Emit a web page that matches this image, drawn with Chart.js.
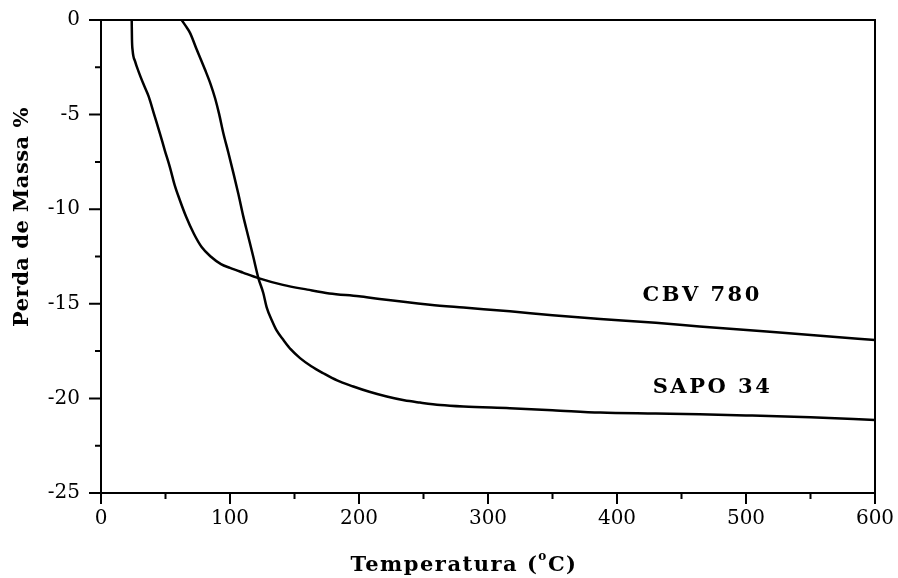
<!DOCTYPE html>
<html>
<head>
<meta charset="utf-8">
<script src="https://cdn.jsdelivr.net/npm/chart.js@4/dist/chart.umd.min.js"></script>
<style>
  html, body { margin: 0; padding: 0; background: #fff; }
  #wrap { width: 898px; height: 578px; }
</style>
</head>
<body>
<div id="wrap"><canvas id="chart" width="898" height="578"></canvas></div>
<script>
// TGA curves: temperature (oC) vs mass loss (%)
const cbvTemp = [23.8, 24.0, 24.5, 26.5, 29, 33, 37, 41, 45.7, 49.5, 53.5, 57, 61, 66, 72, 78, 85, 93, 100, 110, 122, 141, 160, 177, 200, 216, 255, 281, 317, 350, 387, 430, 464, 516, 560, 600];
const cbvMass = [0, -1.0, -1.6, -2.2, -2.7, -3.4, -4.05, -4.95, -6.0, -6.9, -7.8, -8.7, -9.5, -10.4, -11.3, -12.0, -12.5, -12.9, -13.1, -13.35, -13.64, -14.0, -14.25, -14.45, -14.6, -14.75, -15.05, -15.2, -15.4, -15.6, -15.8, -16.0, -16.2, -16.47, -16.7, -16.92];

const sapoTemp = [62.5, 65.5, 69, 74.2, 80.6, 85, 88.5, 91.5, 94.8, 98.7, 102.6, 106.5, 110.3, 114, 118, 122, 125.8, 128.5, 132.3, 136.5, 141.3, 147, 154.3, 163, 172.3, 183, 195.6, 208, 221.5, 235, 247.3, 263, 281, 317, 350, 387, 430, 464, 500, 550, 600];
const sapoMass = [0, -0.3, -0.68, -1.56, -2.62, -3.4, -4.15, -4.95, -5.97, -7.0, -8.08, -9.2, -10.38, -11.4, -12.5, -13.64, -14.43, -15.2, -15.85, -16.45, -16.9, -17.4, -17.87, -18.3, -18.67, -19.05, -19.37, -19.65, -19.9, -20.1, -20.22, -20.35, -20.43, -20.52, -20.62, -20.75, -20.8, -20.84, -20.9, -21.0, -21.14];

// curve labels: text, x (oC), y (%)
const seriesLabels = ["CBV 780", "SAPO 34"];
const labelTemp = [466, 474];
const labelMass = [-14.58, -19.45];

const xMajor = [0, 100, 200, 300, 400, 500, 600];
const xMinor = [50, 150, 250, 350, 450, 550];
const yMajor = [0, -5, -10, -15, -20, -25];
const yMinor = [-2.5, -7.5, -12.5, -17.5, -22.5];

const xTitle = "Temperatura (";
const xTitleSup = "o";
const xTitleEnd = "C)";
const yTitle = "Perda de Massa %";

const serif = "'DejaVu Serif', serif";

function toPoints(xs, ys) {
    return xs.map((x, i) => ({ x: x, y: ys[i] }));
}

const framePlugin = {
    id: 'frame',
    afterDraw(c) {
        const ctx = c.ctx;
        const a = c.chartArea;
        const xs = c.scales.x;
        const ys = c.scales.y;
        ctx.save();
        ctx.strokeStyle = '#000';
        ctx.lineWidth = 2;
        ctx.strokeRect(a.left, a.top, a.right - a.left, a.bottom - a.top);

        ctx.beginPath();
        xMajor.forEach(v => {
            const px = xs.getPixelForValue(v);
            ctx.moveTo(px, a.bottom); ctx.lineTo(px, a.bottom + 11);
        });
        xMinor.forEach(v => {
            const px = xs.getPixelForValue(v);
            ctx.moveTo(px, a.bottom); ctx.lineTo(px, a.bottom + 6);
        });
        yMajor.forEach(v => {
            const py = ys.getPixelForValue(v);
            ctx.moveTo(a.left, py); ctx.lineTo(a.left - 12, py);
        });
        yMinor.forEach(v => {
            const py = ys.getPixelForValue(v);
            ctx.moveTo(a.left, py); ctx.lineTo(a.left - 6, py);
        });
        ctx.stroke();

        // curve labels
        ctx.fillStyle = '#000';
        ctx.font = "bold 21px " + serif;
        ctx.letterSpacing = '2.5px';
        ctx.textAlign = 'center';
        ctx.textBaseline = 'middle';
        seriesLabels.forEach((t, i) => {
            ctx.fillText(t, xs.getPixelForValue(labelTemp[i]), ys.getPixelForValue(labelMass[i]));
        });

        // x title with superscript degree
        ctx.font = "bold 21px " + serif;
        ctx.letterSpacing = '1.5px';
        ctx.textAlign = 'left';
        ctx.textBaseline = 'alphabetic';
        const w1 = ctx.measureText(xTitle).width;
        const w3 = ctx.measureText(xTitleEnd).width;
        ctx.font = "bold 12px " + serif;
        const w2 = ctx.measureText(xTitleSup).width;
        const total = w1 + w2 + w3;
        let x0 = 464 - total / 2;
        const base = 571;
        ctx.font = "bold 21px " + serif;
        ctx.fillText(xTitle, x0, base);
        ctx.font = "bold 12px " + serif;
        ctx.fillText(xTitleSup, x0 + w1, base - 11);
        ctx.font = "bold 21px " + serif;
        ctx.fillText(xTitleEnd, x0 + w1 + w2, base);

        // y title
        ctx.translate(23, 217);
        ctx.rotate(-Math.PI / 2);
        ctx.letterSpacing = '0.5px';
        ctx.font = "bold 21px " + serif;
        ctx.textAlign = 'center';
        ctx.textBaseline = 'middle';
        ctx.fillText(yTitle, 0, 0);
        ctx.restore();
    }
};

const chart = new Chart(document.getElementById('chart'), {
    type: 'line',
    data: {
        datasets: [
            {
                label: seriesLabels[0],
                data: toPoints(cbvTemp, cbvMass),
                borderColor: '#000',
                borderWidth: 2.5,
                pointRadius: 0,
                cubicInterpolationMode: 'monotone'
            },
            {
                label: seriesLabels[1],
                data: toPoints(sapoTemp, sapoMass),
                borderColor: '#000',
                borderWidth: 2.5,
                pointRadius: 0,
                cubicInterpolationMode: 'monotone'
            }
        ]
    },
    options: {
        responsive: false,
        animation: false,
        layout: { padding: { top: 20, right: 23, left: 0, bottom: 0 } },
        plugins: {
            legend: { display: false },
            tooltip: { enabled: false }
        },
        scales: {
            x: {
                type: 'linear',
                min: 0,
                max: 600,
                border: { display: false },
                grid: { display: false, drawTicks: false },
                ticks: {
                    stepSize: 100,
                    padding: 14,
                    color: '#000',
                    font: { family: serif, size: 20 }
                },
                afterFit(s) {
                    s.height = 85;
                    s.paddingLeft = 0;
                    s.paddingRight = 0;
                }
            },
            y: {
                min: -25,
                max: 0,
                border: { display: false },
                grid: { display: false, drawTicks: false },
                ticks: {
                    stepSize: 5,
                    padding: 21,
                    color: '#000',
                    font: { family: serif, size: 20 }
                },
                afterFit(s) {
                    s.width = 101;
                    s.paddingTop = 0;
                    s.paddingBottom = 0;
                }
            }
        }
    },
    plugins: [framePlugin]
});
</script>
</body>
</html>
